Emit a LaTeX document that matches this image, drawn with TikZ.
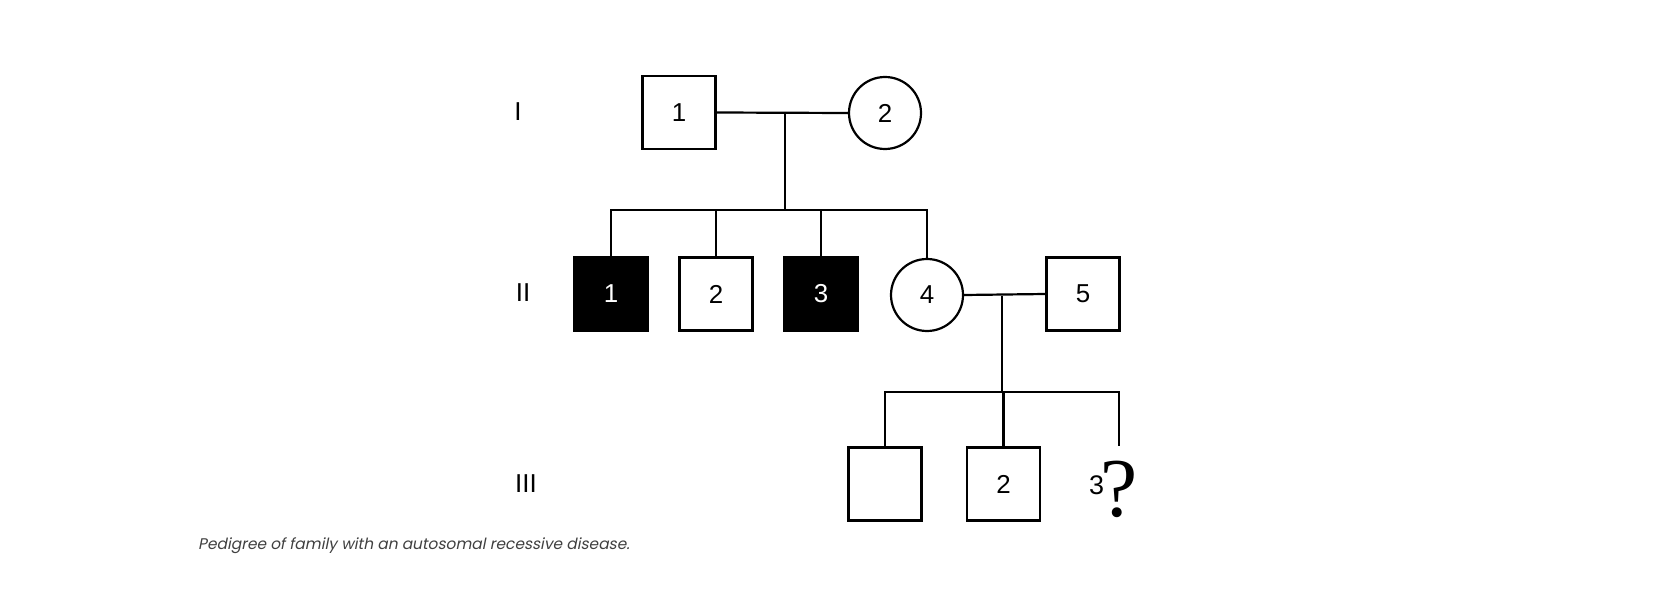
\documentclass[tikz,border=0pt]{standalone}
\usepackage{fontspec}
\setmainfont{Liberation Sans}
\newfontfamily\qfont{Liberation Serif}
\newfontfamily\capfont[FakeSlant=0.2]{Poppins}
\begin{document}
\begin{tikzpicture}[x=1bp,y=-1bp,
  line width=2.2bp,
  male/.style={draw, rectangle, minimum size=73bp, inner sep=0pt, font=\fontsize{26}{26}\selectfont},
  female/.style={draw, circle, minimum size=72bp, inner sep=0pt, font=\fontsize{26}{26}\selectfont},
  affected/.style={fill=black, text=white},
  gen/.style={font=\fontsize{26}{26}\selectfont},
  conn/.style={line width=2.2bp}]
\useasboundingbox (0,0) rectangle (1653,592);
% generation labels
\node[gen] (gI) at (518,112) {I};
\node[gen] (gII) at (523,293) {II};
\node[gen] (gIII) at (526,484) {III};
% generation I
\node[male] (I1) at (679,112.5) {1};
\node[female] (I2) at (885,113) {2};
\coordinate (m1) at (785,112);
\coordinate (s1) at (785,210);
\draw[conn] (I1.east) -- (I2.west);
\draw[conn] (m1) -- (s1);
% generation II
\node[male, affected] (II1) at (611,294) {1};
\node[male] (II2) at (716,294) {2};
\node[male, affected] (II3) at (821,294) {3};
\node[female] (II4) at (927,295) {4};
\node[male] (II5) at (1083,294) {5};
\draw[conn] (II1.north) |- (s1) -| (II4.north);
\draw[conn] (II2.north) -- (II2.north |- s1);
\draw[conn] (II3.north) -- (II3.north |- s1);
\coordinate (m2) at (1002,296);
\coordinate (s2) at (1002,392);
\draw[conn] (II4.east) -- (II5.west);
\draw[conn] (m2) -- (s2);
% generation III
\node[male] (III1) at (885,484) {};
\node[male] (III2) at (1003.5,484) {2};
\coordinate (III3top) at (1119,446);
\node[font=\fontsize{27}{27}\selectfont] (III3n) at (1096.5,485) {3};
\node[font=\qfont\fontsize{84}{84}\selectfont, inner sep=0pt] (III3q) at (1119.5,489) {?};
\draw[conn] (III1.north) |- (s2) -| (III3top);
\draw[conn] (III2.north) -- (III2.north |- s2);
% caption
\node[anchor=west, text=black!75, font=\capfont\fontsize{15.5}{15.5}\selectfont, inner sep=0pt] (cap) at (197,546) {Pedigree of family with an autosomal recessive disease.};
\end{tikzpicture}
\end{document}
